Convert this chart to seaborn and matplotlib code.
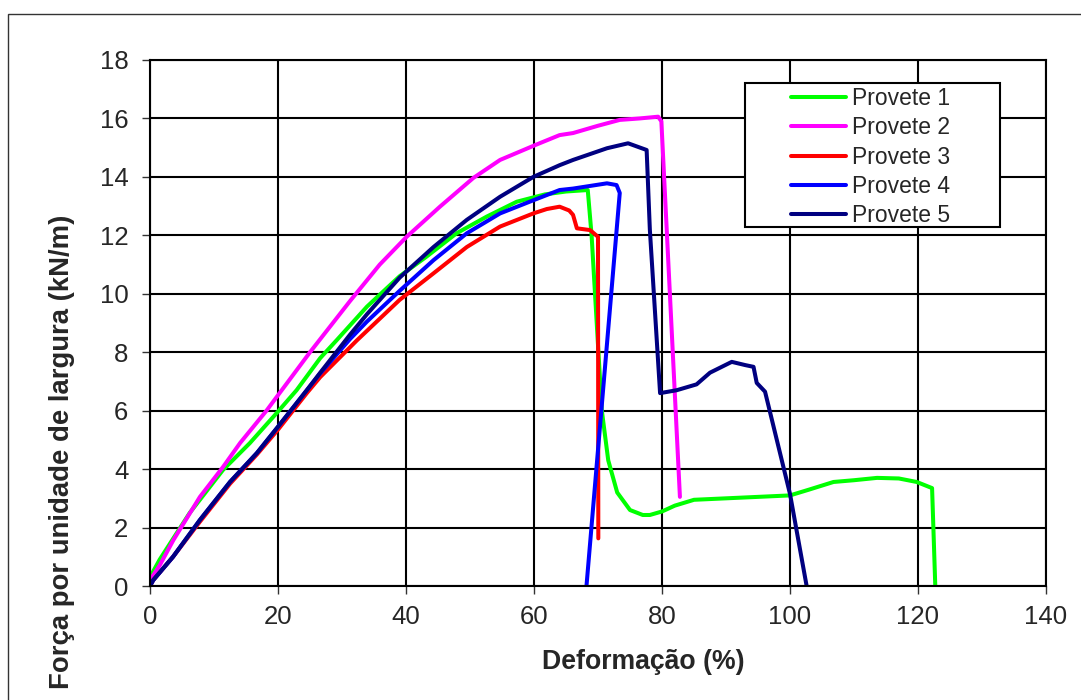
import numpy as np
import pandas as pd
import matplotlib
matplotlib.use("Agg")
import matplotlib.pyplot as plt
import seaborn as sns
from matplotlib.patches import Rectangle

# ---- data ----
series_names = ["Provete 1", "Provete 2", "Provete 3", "Provete 4", "Provete 5"]
series_colors = ["#00FF00", "#FF00FF", "#FF0000", "#0000FF", "#000080"]

p1_x = [0, 1.5, 6.2, 11.4, 15.6, 19.8, 22.9, 26.6, 29.2, 33.9, 39, 43.2, 47.9, 52.6, 57.3,
        61.7, 65, 68.4, 69, 70.6, 71.6, 73, 75, 77, 78.1, 80, 82, 85, 90, 95, 100, 103,
        106.8, 110, 113.6, 117, 119.8, 122.2, 122.7]
p1_y = [0.3, 0.9, 2.5, 3.97, 4.89, 5.92, 6.7, 7.8, 8.42, 9.56, 10.6, 11.27, 12.07, 12.64, 13.15,
        13.4, 13.5, 13.55, 12.0, 6.0, 4.3, 3.2, 2.6, 2.43, 2.43, 2.55, 2.75, 2.95, 3.0, 3.05, 3.1, 3.3,
        3.56, 3.62, 3.7, 3.68, 3.56, 3.35, 0.0]

p2_x = [0, 1.5, 3.65, 7.8, 11.4, 14.1, 18.2, 21.4, 25, 31.25, 35.9, 40.1, 45.3, 50.5, 54.7,
        60.2, 64, 66.1, 70, 73.4, 76.5, 79.4, 79.9, 82.8]
p2_y = [0.2, 0.7, 1.57, 3.05, 4.07, 4.9, 6.0, 6.94, 8.0, 9.75, 11.0, 11.95, 12.98, 13.96, 14.58,
        15.09, 15.43, 15.5, 15.75, 15.95, 16.0, 16.06, 15.9, 3.05]

p3_x = [0, 0.5, 3.6, 7.8, 12.5, 16.7, 20, 24.5, 26.6, 32.3, 39, 44.3, 49.5, 54.7, 59.9, 62,
        64, 65.5, 66.1, 66.7, 68.75, 70, 70.05]
p3_y = [0, 0.2, 1.0, 2.2, 3.5, 4.5, 5.35, 6.6, 7.15, 8.4, 9.79, 10.7, 11.6, 12.3, 12.75, 12.9,
        12.98, 12.85, 12.7, 12.24, 12.18, 11.95, 1.63]

p4_x = [0, 0.5, 3.6, 7.8, 12.5, 16.7, 20, 24.5, 26.6, 31.25, 33.9, 39, 44.3, 49.5, 54.7, 59.9,
        64, 66.1, 71.4, 72.9, 73.4, 68.2]
p4_y = [0, 0.2, 1.0, 2.26, 3.56, 4.55, 5.45, 6.7, 7.28, 8.45, 9.05, 10.1, 11.15, 12.07, 12.75, 13.2,
        13.55, 13.6, 13.78, 13.72, 13.45, 0.0]

p5_x = [0, 0.5, 3.6, 7.8, 12.5, 16.7, 20, 24.5, 26.6, 31.25, 33.9, 39, 44.3, 49.5, 54.7, 59.9,
        64, 66.1, 71.4, 74.7, 77.6, 78.1, 79.7, 82.3, 85.4, 87.5, 90.9, 93, 94.3, 94.8, 96.1,
        100, 102.6]
p5_y = [0, 0.2, 1.0, 2.26, 3.56, 4.55, 5.45, 6.7, 7.3, 8.6, 9.3, 10.55, 11.6, 12.53, 13.32, 14.0,
        14.4, 14.58, 14.98, 15.15, 14.92, 12.2, 6.6, 6.7, 6.9, 7.3, 7.67, 7.56, 7.5, 6.95, 6.65,
        3.15, 0.0]

x_ticks = [0, 20, 40, 60, 80, 100, 120, 140]
y_ticks = [0, 2, 4, 6, 8, 10, 12, 14, 16, 18]
x_label = "Deformação (%)"
y_label = "Força por unidade de largura (kN/m)"

series_x = [p1_x, p2_x, p3_x, p4_x, p5_x]
series_y = [p1_y, p2_y, p3_y, p4_y, p5_y]

frames = []
for name, xs, ys in zip(series_names, series_x, series_y):
    frames.append(pd.DataFrame({"x": xs, "y": ys, "Provete": name}))
df = pd.concat(frames, ignore_index=True)

# ---- style ----
sns.set_style("white")
plt.rcParams['font.family'] = ['Liberation Sans', 'DejaVu Sans']

fig = plt.figure(figsize=(10.81, 7.0), dpi=100)
ax = fig.add_axes([150 / 1081, 114 / 700, 896 / 1081, 526 / 700])

# outer frame of the chart area
fig.patches.append(Rectangle((8 / 1081, -0.1), 1.2, (700 - 14) / 700 + 0.1,
                             transform=fig.transFigure, fill=False,
                             edgecolor="#333333", linewidth=1.0, zorder=0))

sns.lineplot(data=df, x="x", y="y", hue="Provete", hue_order=series_names,
             palette=dict(zip(series_names, series_colors)), sort=False,
             estimator=None, linewidth=2.9, ax=ax,
             solid_capstyle="round", solid_joinstyle="round")

ax.set_xlim(0, 140)
ax.set_ylim(0, 18)
ax.set_xticks(x_ticks)
ax.set_yticks(y_ticks)
ax.grid(True, color="black", linewidth=1.5, zorder=0)
ax.set_axisbelow(True)
for s in ax.spines.values():
    s.set_color("black")
    s.set_linewidth(1.5)
ax.tick_params(axis="both", direction="out", length=6, width=1, color="#333333",
               labelsize=18.5, left=True, bottom=True)
ax.tick_params(axis="y", pad=9.5)
ax.tick_params(axis="x", pad=8)

ax.set_xlabel(x_label, fontsize=19.2, fontweight="bold")
ax.set_ylabel(y_label, fontsize=19.8, fontweight="bold")
ax.xaxis.set_label_coords(0.551, -0.12)
ax.yaxis.set_label_coords(-0.084, 0.255)

# legend frame (wide box, as in the reference)
ax.add_patch(Rectangle((0.664, 0.6825), 0.2847, 0.2738, transform=ax.transAxes,
                       facecolor="white", edgecolor="black", linewidth=1.5,
                       zorder=4, clip_on=False))

handles, labels = ax.get_legend_handles_labels()
for h in handles:
    h.set_linewidth(2.9)
    h.set_solid_capstyle("round")
leg = ax.legend(handles, labels, loc="upper left", bbox_to_anchor=(0.7154, 0.949),
                borderaxespad=0, borderpad=0, fontsize=16.5, frameon=False,
                handlelength=2.4, handletextpad=0.25, labelspacing=0.28)
leg.set_zorder(5)

fig.savefig("out.png", dpi=100)
